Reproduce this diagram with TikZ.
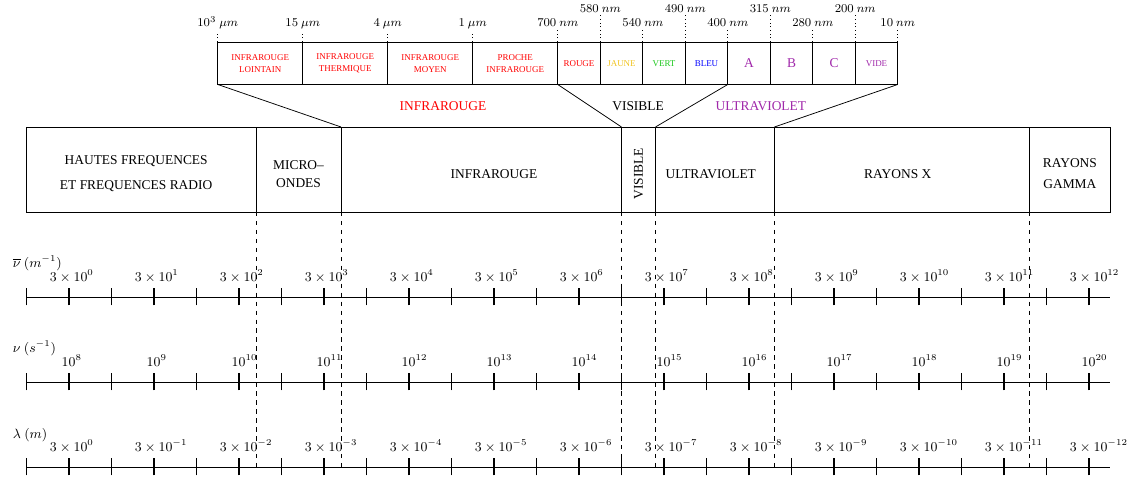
\documentclass[tikz,border=0pt]{standalone}
\usepackage{mathtools}
\usepackage[no-math]{fontspec}
\setmainfont{Liberation Serif}
\usepackage{xcolor}
\usepackage{tikz}
\usetikzlibrary{positioning}
\definecolor{uvviolet}{RGB}{160,40,170}
\definecolor{jaune}{RGB}{240,195,30}
\definecolor{vert}{RGB}{30,200,30}
\tikzset{band/.style={draw,anchor=south west,minimum height=2cm,inner sep=0pt,outer sep=0pt}}
\tikzset{bandtext/.style={font=\small,align=center,yshift=-1mm}}
\tikzset{cell/.style={draw,minimum height=1cm,inner sep=0pt,outer sep=0pt,font=\fontsize{6}{8}\selectfont,align=center}}
\tikzset{wide/.style={cell,minimum width=2cm,text=red}}
\tikzset{narrow/.style={cell,minimum width=1cm}}
\tikzset{wavelab/.style={font=\footnotesize,anchor=base,inner sep=1pt}}
\tikzset{scalelab/.style={font=\small,anchor=base,inner sep=0pt}}
\tikzset{axislab/.style={font=\small,anchor=west,inner sep=0pt}}

\begin{document}
\begin{tikzpicture}[line width=0.5pt]
	\useasboundingbox (-0.624,-0.259) rectangle (25.918,10.988);
	% bande principale
	\node[band,minimum width=5.4cm] (hf) at (0,6) {};
	\node[band,minimum width=2cm,right=0pt of hf] (mo) {};
	\node[band,minimum width=6.6cm,right=0pt of mo] (ir) {};
	\node[band,minimum width=0.8cm,right=0pt of ir] (vis) {};
	\node[band,minimum width=2.8cm,right=0pt of vis] (uv) {};
	\node[band,minimum width=6cm,right=0pt of uv] (rx) {};
	\node[band,minimum width=1.9cm,right=0pt of rx] (rg) {};
	\node[bandtext,xshift=-1.2mm] (thf) at (hf.center) {HAUTES FREQUENCES\\[5.5pt]ET FREQUENCES RADIO};
	\node[bandtext] (tmo) at (mo.center) {MICRO--\\[1pt]ONDES};
	\node[bandtext,xshift=3mm] (tir) at (ir.center) {INFRAROUGE};
	\node[font=\small,rotate=90] (tvis) at ([yshift=-1mm]vis.center) {VISIBLE};
	\node[bandtext,xshift=-1mm] (tuv) at (uv.center) {ULTRAVIOLET};
	\node[bandtext,xshift=-1mm] (trx) at (rx.center) {RAYONS X};
	\node[bandtext] (trg) at (rg.center) {RAYONS\\[3pt]GAMMA};
	% detail IR / visible / UV
	\node[wide,anchor=south west] (c1) at (4.5,9) {INFRAROUGE\\LOINTAIN};
	\node[wide,right=0pt of c1] (c2) {INFRAROUGE\\THERMIQUE};
	\node[wide,right=0pt of c2] (c3) {INFRAROUGE\\MOYEN};
	\node[wide,right=0pt of c3] (c4) {PROCHE\\INFRAROUGE};
	\node[narrow,right=0pt of c4,text=red] (c5) {ROUGE};
	\node[narrow,right=0pt of c5,text=jaune] (c6) {JAUNE};
	\node[narrow,right=0pt of c6,text=vert] (c7) {VERT};
	\node[narrow,right=0pt of c7,text=blue] (c8) {BLEU};
	\node[narrow,right=0pt of c8,text=uvviolet,font=\small] (c9) {A};
	\node[narrow,right=0pt of c9,text=uvviolet,font=\small] (c10) {B};
	\node[narrow,right=0pt of c10,text=uvviolet,font=\small] (c11) {C};
	\node[narrow,right=0pt of c11,text=uvviolet] (c12) {VIDE};
	\path (c1.north west) ++(0,0.36) node[wavelab] (w0) {$10^3\ \mu m$};
	\draw[dotted] (c1.north west) -- (w0.south);
	\foreach \n/\t/\h [count=\i] in {c1/15\ \mu m/0.36, c2/4\ \mu m/0.36, c3/1\ \mu m/0.36, c4/700\ nm/0.36, c5/580\ nm/0.69, c6/540\ nm/0.36, c7/490\ nm/0.69, c8/400\ nm/0.36, c9/315\ nm/0.69, c10/280\ nm/0.36, c11/200\ nm/0.69, c12/10\ nm/0.36}
	{
		\path (\n.north east) ++(0,\h) node[wavelab] (w\i) {$\t$};
		\draw[dotted] (\n.north east) -- (w\i.south);
	}
	\draw (c1.south west) -- (mo.north east);
	\draw (c4.south east) -- (vis.north west);
	\draw (c8.south east) -- (vis.north east);
	\draw (c12.south east) -- (uv.north east);
	\node[font=\small,text=red] (fir) at (9.8,8.48) {INFRAROUGE};
	\node[font=\small] (fvis) at (14.39,8.48) {VISIBLE};
	\node[font=\small,text=uvviolet] (fuv) at (17.28,8.48) {ULTRAVIOLET};
	% echelles
	\coordinate (lamax) at (0,0);
	\foreach \y in {0,2,4}
	{
		\draw (0,\y) -- (25.5,\y);
		\foreach \x in {0,2,...,24} \draw (\x,\y-0.2) -- (\x,\y+0.2);
		\foreach \x in {1,3,...,25} \draw[line width=1.1pt] (\x,\y-0.2) -- (\x,\y+0.2);
	}
	\foreach \k in {0,...,12} \node[scalelab] (nb\k) at (2*\k+1,4.37) {$3\times10^{\mathrlap{\k}}$};
	\foreach \k [evaluate=\k as \e using int(\k+8)] in {0,...,12} \node[scalelab] (nu\k) at (2*\k+1,2.36) {$10^{\mathrlap{\e}}$};
	\foreach \k in {0,...,12} \node[scalelab] (la\k) at (2*\k+1,0.37) {$3\times10^{\mathrlap{\ifnum\k=0 0\else-\k\fi}}$};
	\node[axislab] (anb) at (-0.33,4.8) {$\overline{\nu}\ (m^{-1})$};
	\node[axislab] (anu) at (-0.33,2.8) {$\nu\ (s^{-1})$};
	\node[axislab] (ala) at (-0.33,0.76) {$\lambda\ (m)$};
	\foreach \r in {hf,mo,ir,vis,uv,rx} \draw[dashed] (\r.south east) -- (\r.south east |- lamax);
\end{tikzpicture}
\end{document}
